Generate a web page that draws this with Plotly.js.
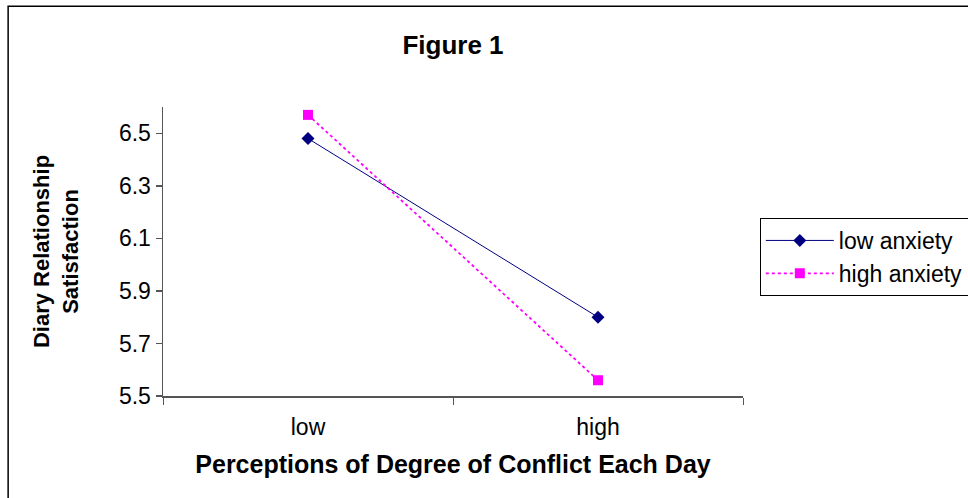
<!DOCTYPE html>
<html>
<head>
<meta charset="utf-8">
<script src="https://cdn.plot.ly/plotly-3.0.1.min.js"></script>
<style>html,body{margin:0;padding:0;background:#fff;}#chart{width:968px;height:498px;}</style>
</head>
<body>
<div id="chart"></div>
<script>
var categories = ["low", "high"];
var lowAnxiety = [6.48, 5.80];
var highAnxiety = [6.57, 5.56];
var seriesNames = ["low anxiety", "high anxiety"];
var yTicks = [5.5, 5.7, 5.9, 6.1, 6.3, 6.5];

var font = "Liberation Sans, Arial, sans-serif";

var traces = [
  {
    x: categories, y: lowAnxiety, name: seriesNames[0], type: "scatter", mode: "lines+markers",
    line: {color: "#000080", width: 1},
    marker: {symbol: "diamond", size: 10, color: "#000080"}
  },
  {
    x: categories, y: highAnxiety, name: seriesNames[1], type: "scatter", mode: "lines+markers",
    line: {color: "#FF00FF", width: 1.8, dash: "dot"},
    marker: {symbol: "square", size: 10, color: "#FF00FF"}
  }
];

var layout = {
  width: 968, height: 498,
  margin: {l: 163, r: 225, t: 107, b: 102, autoexpand: false},
  paper_bgcolor: "#fff", plot_bgcolor: "#fff",
  font: {family: font, size: 22, color: "#000"},
  showlegend: true,
  title: {text: "<b>Figure 1</b>", font: {family: font, size: 26, color: "#000"}, x: 0.468, xanchor: "center", y: 0.91, yanchor: "middle"},
  xaxis: {
    type: "category", range: [-0.5, 1.5], tickson: "boundaries",
    ticks: "outside", ticklen: 7, tickcolor: "#555", tickwidth: 1,
    showline: true, linecolor: "#555", linewidth: 1.5, showgrid: false, zeroline: false,
    tickfont: {family: font, size: 23, color: "#000"}, ticklabelstandoff: 10,
    title: {text: "<b>Perceptions of Degree of Conflict Each Day</b>", font: {family: font, size: 25, color: "#000"}, standoff: 16}
  },
  yaxis: {
    range: [5.5, 6.6], tickvals: yTicks, ticktext: yTicks.map(function(v){return v.toFixed(1);}),
    ticks: "outside", ticklen: 6, tickcolor: "#555", tickwidth: 1.5,
    showline: true, linecolor: "#555", linewidth: 1.5, showgrid: false, zeroline: false,
    tickfont: {family: font, size: 23, color: "#000"},
    title: {text: "<b>Diary Relationship<br>Satisfaction</b>", font: {family: font, size: 22, color: "#000"}, standoff: 34}
  },
  legend: {
    x: 1.029, xanchor: "left", y: 0.616, yanchor: "top",
    bordercolor: "#000", borderwidth: 1, bgcolor: "#fff",
    font: {family: font, size: 23, color: "#000"},
    itemwidth: 68, tracegroupgap: 0
  },
  shapes: [
    {type: "rect", xref: "paper", yref: "paper", x0: -0.267, x1: 1.6, y0: -0.6, y1: 1.349,
     line: {color: "#000", width: 1.5}, fillcolor: "rgba(0,0,0,0)"}
  ]
};

Plotly.newPlot("chart", traces, layout, {displayModeBar: false, staticPlot: true});
</script>
</body>
</html>
